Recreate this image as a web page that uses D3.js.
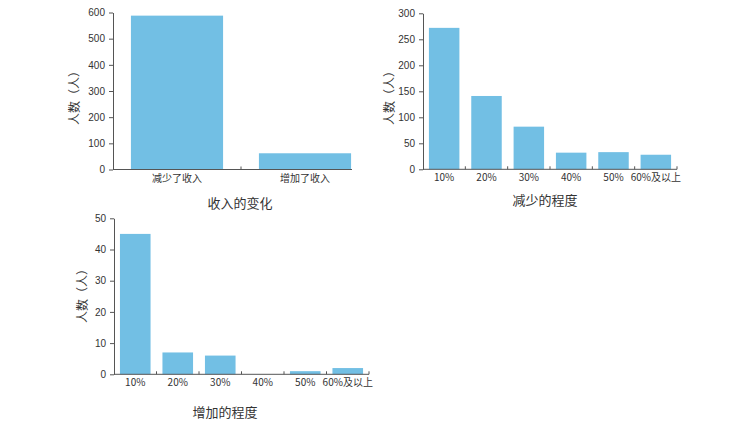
<!DOCTYPE html>
<html>
<head>
<meta charset="utf-8">
<script src="https://cdn.jsdelivr.net/npm/d3@7"></script>
<style>
  body { margin: 0; background: #fff; }
  svg { display: block; }
  text { font-family: "Liberation Sans", "Noto Sans CJK SC", sans-serif; fill: #333; }
  .cjk { font-family: "Noto Sans CJK SC", sans-serif; }
</style>
</head>
<body>
<div id="chart"></div>
<script>
// data
var incomeCats = ["减少了收入", "增加了收入"];
var incomeVals = [588, 62];
var levelCats = ["10%", "20%", "30%", "40%", "50%", "60%及以上"];
var decreaseVals = [272, 141, 82, 32, 33, 28];
var increaseVals = [45, 7, 6, 0, 1, 2];
var incomeTicks = [0, 100, 200, 300, 400, 500, 600];
var decreaseTicks = [0, 50, 100, 150, 200, 250, 300];
var increaseTicks = [0, 10, 20, 30, 40, 50];

var barColor = "#72bfe4";
var axisColor = "#555";

var svg = d3.select("#chart").append("svg")
    .attr("width", 750)
    .attr("height", 431);

function drawBars(cfg) {
    var x = d3.scaleBand()
        .domain(cfg.cats)
        .range([cfg.left, cfg.right])
        .paddingInner(0.28)
        .paddingOuter(0.14);

    var y = d3.scaleLinear()
        .domain([0, d3.max(cfg.ticks)])
        .range([cfg.bottom, cfg.top]);

    var g = svg.append("g");

    // bars
    g.selectAll(".bar")
        .data(cfg.vals)
        .enter().append("rect")
        .attr("class", "bar")
        .attr("x", function(d, i) { return x(cfg.cats[i]); })
        .attr("y", function(d) { return y(d); })
        .attr("width", x.bandwidth())
        .attr("height", function(d) { return cfg.bottom - y(d); })
        .attr("fill", barColor);

    // y axis
    var yAxis = g.append("g")
        .attr("transform", "translate(" + cfg.left + ",0)")
        .call(d3.axisLeft(y).tickValues(cfg.ticks).tickSize(4).tickPadding(4).tickSizeOuter(0));
    yAxis.select(".domain").attr("stroke", axisColor);
    yAxis.selectAll(".tick line").attr("stroke", axisColor);
    yAxis.selectAll(".tick text").attr("font-size", 10).style("fill", "#333");

    // x axis line
    g.append("line")
        .attr("x1", cfg.left).attr("x2", cfg.axisEnd || cfg.right)
        .attr("y1", cfg.bottom).attr("y2", cfg.bottom)
        .attr("stroke", axisColor);

    // small ticks between bands (pointing up)
    var step = x.step();
    var bounds = cfg.cats.slice(1).map(function(c) { return x(c) - (step - x.bandwidth()) / 2; });
    if (!cfg.axisEnd) bounds.push(cfg.right);
    g.selectAll(".xt")
        .data(bounds)
        .enter().append("line")
        .attr("x1", function(d) { return d; }).attr("x2", function(d) { return d; })
        .attr("y1", cfg.bottom).attr("y2", cfg.bottom - 3)
        .attr("stroke", axisColor);

    // category labels
    g.selectAll(".xl")
        .data(cfg.cats)
        .enter().append("text")
        .attr("class", "cjk")
        .attr("x", function(d) { return x(d) + x.bandwidth() / 2; })
        .attr("y", cfg.bottom + 12)
        .attr("text-anchor", "middle")
        .attr("font-size", 10)
        .text(function(d) { return d; });

    // axis titles
    g.append("text")
        .attr("class", "cjk")
        .attr("x", cfg.titleX)
        .attr("y", cfg.titleY)
        .attr("text-anchor", "middle")
        .attr("font-size", 13)
        .text(cfg.title);

    g.append("text")
        .attr("class", "cjk")
        .attr("transform", "translate(" + cfg.ylabX + "," + cfg.ylabY + ") rotate(-90)")
        .attr("text-anchor", "middle")
        .attr("font-size", 12)
        .text("人数（人）");
}

drawBars({cats: incomeCats, vals: incomeVals, ticks: incomeTicks,
    left: 113, right: 369, axisEnd: 352, top: 12.5, bottom: 169.5,
    title: "收入的变化", titleX: 240, titleY: 208, ylabX: 79, ylabY: 95});

drawBars({cats: levelCats, vals: decreaseVals, ticks: decreaseTicks,
    left: 423, right: 677, top: 13.3, bottom: 169.3,
    title: "减少的程度", titleX: 545, titleY: 205, ylabX: 394, ylabY: 95});

drawBars({cats: levelCats, vals: increaseVals, ticks: increaseTicks,
    left: 114, right: 369, top: 218.3, bottom: 374.3,
    title: "增加的程度", titleX: 225, titleY: 417, ylabX: 87, ylabY: 293});
</script>
</body>
</html>
